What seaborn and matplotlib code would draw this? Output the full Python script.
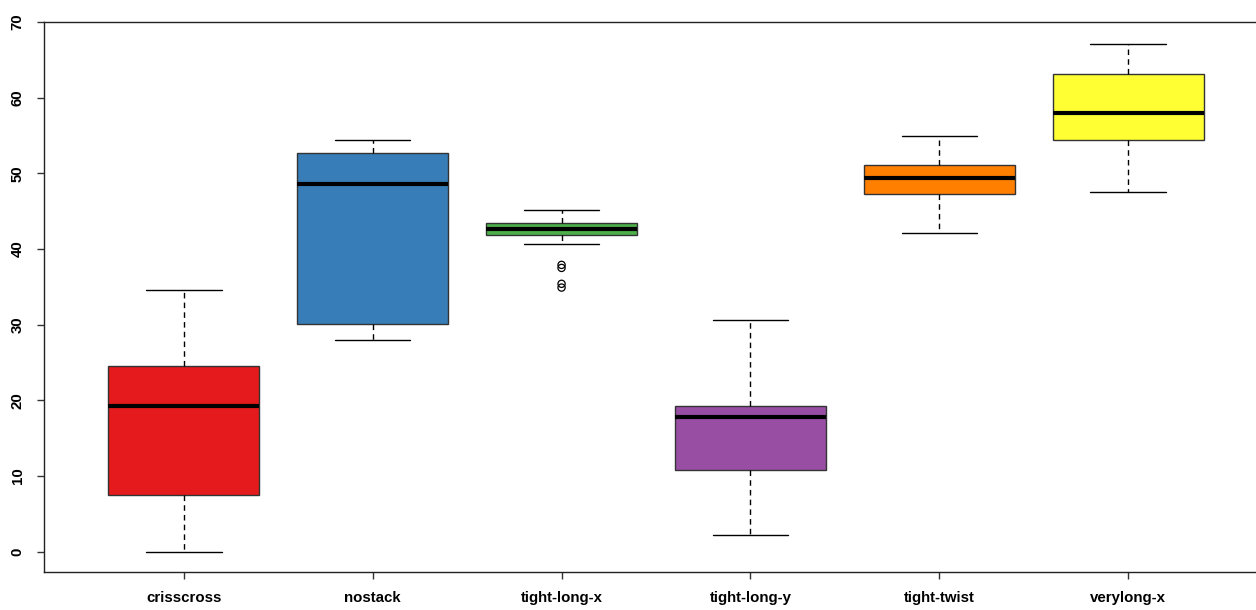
import numpy as np
import pandas as pd
import matplotlib
matplotlib.use("Agg")
import matplotlib.pyplot as plt
import seaborn as sns

# ---- data ----
categories = ["crisscross", "nostack", "tight-long-x", "tight-long-y", "tight-twist", "verylong-x"]
whisker_low = [0.0, 28.0, 40.6, 2.2, 42.1, 47.5]
q1 = [7.5, 30.1, 41.8, 10.8, 47.3, 54.4]
median = [19.3, 48.6, 42.6, 17.8, 49.4, 58.0]
q3 = [24.5, 52.7, 43.4, 19.3, 51.1, 63.1]
whisker_high = [34.6, 54.4, 45.2, 30.6, 54.9, 67.1]
outlier_cat = ["tight-long-x"] * 4
outlier_val = [37.9, 37.5, 35.4, 34.9]
colors = ["#E41A1C", "#377EB8", "#4DAF4A", "#984EA3", "#FF7F00", "#FFFF33"]

rows = []
for i, c in enumerate(categories):
    for v in (whisker_low[i], q1[i], median[i], q3[i], whisker_high[i]):
        rows.append({"group": c, "value": v})
df = pd.DataFrame(rows)
out_df = pd.DataFrame({"group": outlier_cat, "value": outlier_val})

sns.set_style("ticks")
plt.rcParams["font.family"] = ["Liberation Sans", "DejaVu Sans"]
plt.rcParams["font.weight"] = "bold"

fig = plt.figure(figsize=(12.56, 6.10), dpi=100)
ax = fig.add_axes([44 / 1256, 1 - 572 / 610, (1268 - 44) / 1256, (572 - 22) / 610])

sns.boxplot(
    data=df, x="group", y="value", hue="group", order=categories,
    hue_order=categories, palette=colors, legend=False, ax=ax,
    width=0.8, whis=(0, 100), showfliers=False, linecolor="black",
    linewidth=1, saturation=1,
    medianprops=dict(color="black", linewidth=3, solid_capstyle="butt"),
    whiskerprops=dict(color="black", linewidth=1, linestyle=(0, (4, 3))),
    capprops=dict(color="black", linewidth=1),
    boxprops=dict(edgecolor="#333333", linewidth=1),
    capwidths=0.4,
)

sns.stripplot(
    data=out_df, x="group", y="value", order=categories, jitter=False,
    color="white", edgecolor="black", linewidth=0.9, size=5.2, ax=ax,
)
for coll in ax.collections:
    coll.set_facecolor("none")

ax.set_xlim(-0.74, 5.74)
ax.set_ylim(-2.69, 69.85)
ax.set_yticks(range(0, 71, 10))
ax.set_xlabel("")
ax.set_ylabel("")

for side in ["left", "bottom", "top", "right"]:
    ax.spines[side].set_visible(True)
    ax.spines[side].set_color("#222222")
    ax.spines[side].set_linewidth(1)

ax.tick_params(axis="both", length=5, width=1, color="#333333", labelsize=10.8,
               labelcolor="black")
ax.tick_params(axis="y", pad=9)
ax.tick_params(axis="x", pad=9)
for lab in ax.get_yticklabels():
    lab.set_rotation(90)
    lab.set_va("center")
    lab.set_fontweight("bold")
for lab in ax.get_xticklabels():
    lab.set_fontweight("bold")

fig.savefig("out.png", dpi=100)
